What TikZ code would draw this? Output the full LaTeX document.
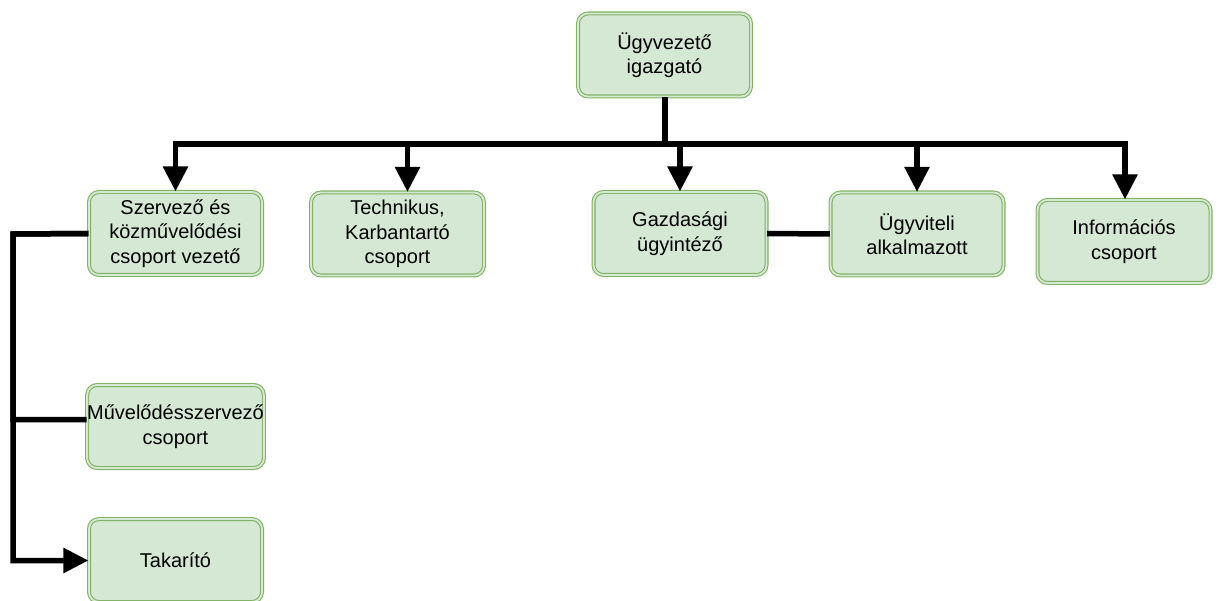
\documentclass[tikz,border=0pt]{standalone}
\usepackage{fontspec}
\setmainfont{Liberation Sans}
\usetikzlibrary{arrows.meta}
\definecolor{boxfill}{HTML}{D5E8D4}
\definecolor{boxline}{HTML}{82B366}
\tikzset{
  orgbox/.style={draw=boxline, double=boxfill, double distance=1.8pt, line width=1.1pt,
    fill=boxfill, rounded corners=10pt, minimum width=173pt, minimum height=83pt,
    inner sep=0pt, align=center, font=\fontsize{20}{24.5}\selectfont, text=black},
  conn/.style={line width=5.5pt, black},
  arr/.style={conn, -{Triangle[length=25pt,width=24pt]}},
}
\begin{document}
\begin{tikzpicture}[x=1pt,y=-1pt]
\useasboundingbox (0,0) rectangle (1220,601);
\node[orgbox] (top) at (664.5,55) {Ügyvezető\\igazgató};
\node[orgbox] (szerv) at (175.5,233.5) {Szervező és\\közművelődési\\csoport vezető};
\node[orgbox] (tech) at (397.5,234) {Technikus,\\Karbantartó\\csoport};
\node[orgbox] (gaz) at (680,233.5) {Gazdasági\\ügyintéző};
\node[orgbox] (ugy) at (917,234) {Ügyviteli\\alkalmazott};
\node[orgbox] (inf) at (1124,241.5) {Információs\\csoport};
\node[orgbox] (muv) at (175.5,426.5) {Művelődésszervező\\csoport};
\node[orgbox] (tak) at (175.5,560.5) {Takarító};
\coordinate (bus) at (665,144);
\draw[conn] ([xshift=0.5pt]top.south) -- (bus);
\draw[arr] (bus) -| (szerv.north);
\draw[arr] (bus) -| ([xshift=10pt]tech.north);
\draw[arr] (bus) -| (gaz.north);
\draw[arr] (bus) -| (ugy.north);
\draw[arr] (bus) -| ([xshift=1pt]inf.north);
\draw[conn] (gaz.east) -- (ugy.west);
\coordinate (lft) at (13,234);
\draw[conn] (szerv.west) -- (lft) |- ([yshift=7pt]muv.west);
\draw[arr] (szerv.west) -- (lft) |- (tak.west);
\end{tikzpicture}
\end{document}
